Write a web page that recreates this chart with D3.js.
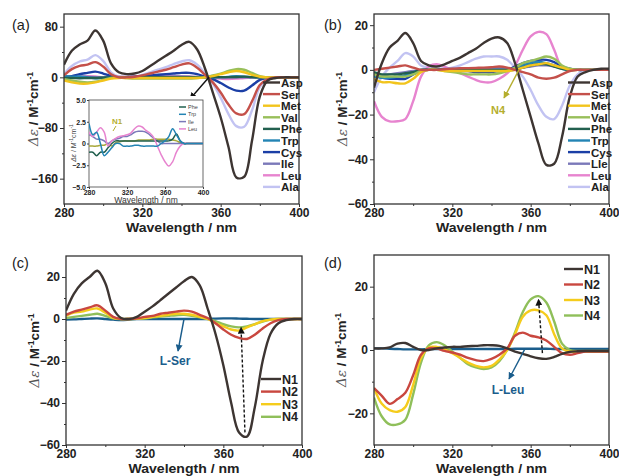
<!DOCTYPE html>
<html>
<head>
<meta charset="utf-8">
<title>CD spectra</title>
<script src="https://cdnjs.cloudflare.com/ajax/libs/d3/7.8.5/d3.min.js"></script>
<style>
  body { margin: 0; background: #fff; font-family: "Liberation Sans", Arial, sans-serif; }
  .tick text { font-weight: bold; fill: #222; }
  .axis path, .axis line { stroke: #333; }
</style>
</head>
<body>
<div id="chart"></div>
<script>
// shared wavelength grid (nm)
const wl = [280, 284, 288, 292, 296, 300, 304, 308, 312, 316, 320, 324, 328, 332, 336, 340,
            344, 348, 352, 356, 360, 364, 368, 372, 376, 380, 384, 388, 392, 396, 400];

const aminoNames = ["Asp", "Ser", "Met", "Val", "Phe", "Trp", "Cys", "Ile", "Leu", "Ala"];
const aminoNamesB = ["Asp", "Ser", "Met", "Val", "Phe", "Trp", "Cys", "Lle", "Leu", "Ala"];
const aminoColors = ["#3d3532", "#c4504a", "#f2c41c", "#98bf5a", "#22604f", "#2384b4", "#1b3fa6", "#7b79b9", "#e784cf", "#c2c3f2"];

// panel (a)
const aAsp = [20, 42, 52, 58, 74, 58, 22, 8, 5, 6, 10, 18, 26, 34, 42, 51, 56, 44, 14, -24, -63, -110, -158, -157, -100, -30, -5, -1, 0, 0, 0];
const aSer = [3, 13, 18, 20, 24, 17, 5, 0, 0, 1, 3, 6, 9, 12, 16, 20, 22, 15, 4, -8, -24, -43, -57, -58, -38, -12, -3, 0, 0, 0, 0];
const aMet = [-5, -8, -10, -10, -8, -5, -2, -1, -1, -1, -1, -1, -1, -1, -1, -1, -1, -1, 0, 2, 5, 8, 10, 8, 4, 1, 0, 0, 0, 0, 0];
const aVal = [-3, -5, -7, -8, -7, -4, -1, 0, -1, -2, -2, -2, -2, -2, -2, -2, -2, -1, 0, 3, 6, 10, 13, 12, 7, 2, 0, 0, 0, 0, 0];
const aPhe = [-1, -1, -1.4, -1, -1, -0.5, 0, 0.3, 0.3, 0.3, 0.3, 0.3, 0.3, 0.3, 0.3, 0.3, 0.3, 0.3, 0.3, 0.3, 0.3, 0.3, 0.5, 1.1, 0.3, 0, 0, 0, 0, 0, 0];
const aTrp = [2.3, 1, 1.3, 0, -1.4, -1, -0.5, 0, 0, -0.3, -0.3, -0.3, -0.2, -0.2, -0.3, -0.3, -0.3, -0.3, -0.3, 0, 0.3, 0.8, 1.7, 1, 0.3, 0, 0, 0, 0, 0, 0];
const aCys = [0, 2, 5, 7, 9, 6, 2, 0, 0, 1, 2, 3, 4, 5, 6, 7, 7, 5, 1, -3, -9, -16, -21, -21, -13, -4, -1, 0, 0, 0, 0];
const aIle = [1, 0.8, 0.5, 0.5, 0.3, 0, 0.3, 0.5, 0.6, 0.8, 0.8, 1, 1.3, 1.4, 1.4, 1.3, 1, 0.6, 0.3, 0, 0, 0, 0, 0, 0, 0, 0, 0, 0, 0, 0];
const aLeu = [1.3, 0.8, 1.3, 1.8, 1.3, -0.3, 0.3, 0.6, 0.8, 0.9, 1, 1.2, 1.7, 2, 1.9, 1.5, 1.2, 0.7, -0.3, -1.3, -2.1, -2.6, -2.1, -1, -0.3, 0, 0, 0, 0, 0, 0];
const aAla = [5, 18, 25, 28, 35, 26, 8, 1, 0, 1, 4, 8, 12, 16, 21, 25, 27, 20, 6, -10, -32, -58, -77, -78, -52, -15, -3, 0, 0, 0, 0];
const aN1 = [-0.3, -0.3, -0.3, -0.2, -0.2, 0, -0.3, 0.1, 0.2, 0.3, 0.3, 0.3, 0.3, 0.4, 0.4, 0.4, 0.4, 0.5, 0.5, 0.5, 0.5, 0.5, 0.4, 0.3, 0.1, 0, 0, 0, 0, 0, 0];

// panel (b)
const bAsp = [-8, 3, 10, 13, 16.5, 12, 4, 2, 1.5, 2.5, 4, 5.5, 7.5, 9.5, 12, 14, 14.5, 12, 3, -9, -21, -33, -42.5, -42, -30, -12, -3, -1, 0, 0.5, 0.5];
const bSer = [0, 0.5, 1, 1.5, 2, 1, 0, 0, 0, 0.3, 0.5, 0.7, 0.8, 0.9, 1, 1.2, 1.5, 1, 0, -1, -2, -3.5, -4, -3.5, -2, -0.5, 0, 0, 0, 0, 0];
const bMet = [-4, -5.5, -5.5, -6, -6, -4, -1, 0, 0, -0.5, -0.5, -0.5, -0.5, -0.5, -0.5, -0.5, -0.5, -0.5, 0, 1, 2, 2.5, 3, 2, 1, 0, 0, 0, 0, 0, 0];
const bVal = [-2, -3, -3, -3, -3, -2, -0.5, 0, 0, -0.5, -1, -1.5, -2, -2, -2, -2, -1.5, -0.5, 1, 3, 4, 5, 6, 5, 2, 0.5, 0, 0, 0, 0, 0];
const bPhe = [-1, -2, -2, -2, -1.5, -1, 0, 0, 0, 0, 0, 0, 0, 0, 0, 0, 0, 0, 0, 1, 2, 2.5, 2.5, 1.5, 0.5, 0, 0, 0, 0, 0, 0];
const bTrp = [-3, -3.5, -3.5, -3, -2.5, -1, 0, 0, 0, 0, 0, 0, 0, 0, 0, 0, 0, 0, 0.5, 2, 3, 3.5, 3, 2, 0.5, 0, 0, 0, 0, 0, 0];
const bCys = [-2, -3.5, -4, -4, -4, -2, -0.5, 0, 0, 0, -0.5, -0.5, -0.5, -1, -1, -1, -0.5, 0, 1.5, 3, 4, 4.5, 4.5, 3.5, 1.5, 0.5, 0, 0, 0, 0, 0];
const bIle = [-3, -2.5, -2, -1.5, -1, -0.5, 0, 0, 0.3, 0.4, 0.5, 0.6, 0.7, 0.8, 0.8, 0.8, 0.8, 0.5, 0.3, 1, 1.5, 2, 2, 1.5, 0.8, 0.3, 0, 0, 0, 0, 0];
const bLeu = [-14, -21, -23, -23, -22, -14, -3, 1.5, 2.5, 1.5, 0, -1.5, -3, -4.5, -5.5, -5.5, -4, -1.5, 2, 9, 15, 17, 16, 9, 1, 0, 0, 0, 0, 0, 0];
const bAla = [-10, -3, 1, 4, 7.5, 6, 2, 1, 0.5, 0.5, 1, 2, 3.5, 5, 6, 6, 6, 4.5, 1, -3, -9, -16, -21, -22, -16, -7, -2, 0, 0, 0, 0];

// panel (c)
const seriesNamesCD = ["N1", "N2", "N3", "N4"];
const seriesColorsCD = ["#3d3532", "#c9473f", "#f5cc1c", "#8fbf5a"];
const cN1 = [4, 12, 17, 20, 23, 17, 5, 0.5, 0, 1, 3.5, 6, 9, 12, 15, 18, 20, 16, 5, -7, -22, -40, -54, -56, -42, -20, -7, -2, -0.5, 0, 0];
const cN2 = [2, 3.5, 4.5, 5.5, 6.5, 4, 1, 0, 0, 0.3, 1, 1.5, 2.5, 3, 3.5, 4, 3.5, 2, 0.5, -2, -5, -7.5, -9, -9.5, -7.5, -4.5, -2, -0.5, 0, 0, 0];
const cN3 = [1.5, 3, 3.5, 4.5, 5, 3, 0.5, 0, 0, 0.2, 0.5, 1, 1.5, 2, 2.5, 2.5, 2, 1, 0, -2, -3.5, -5, -5.5, -4, -2.5, -1, -0.3, 0, 0, 0, 0];
const cN4 = [0.5, 1, 1.5, 2, 2.5, 1.5, 0.3, 0, 0, 0.1, 0.3, 0.8, 1.2, 1.5, 1.8, 2, 1.5, 0.8, 0, -1, -2.5, -3.5, -4, -3.5, -2.5, -1.2, -0.3, 0, 0, 0, 0];
const cLSer = [-0.3, -0.2, 0, 0.2, 0.3, 0, -0.3, -0.5, -0.3, 0, 0, 0, 0, 0, 0, 0, 0, 0, 0, 0.2, 0.3, 0.3, 0.2, 0.1, 0, 0, 0, 0, 0, 0, 0];

// panel (d)
const dN1 = [0.5, 0.5, 0.8, 2, 2.2, 1, 0, 0, 0.5, 0.8, 1, 1, 1.2, 1.3, 1.5, 1.5, 1.3, 0.5, -0.5, -1.2, -2, -2.6, -2.8, -2.2, -1.2, -0.6, -0.4, -0.3, -0.3, -0.3, -0.3];
const dN2 = [-12, -14.5, -17, -15.5, -13.5, -8, -1.5, 0.5, 0.5, -0.3, -0.8, -1.5, -2.5, -3.2, -3.5, -2.8, -1.5, 0.5, 4.5, 5.5, 4.5, 4, 3, 1, -1, -1.5, -1, -0.5, -0.5, -0.5, -0.5];
const dN3 = [-12, -17, -19, -19.5, -18, -11, -2.5, 0.8, 1, 0.3, -1, -2.5, -4, -5, -5.5, -5, -3, 0, 5, 10.5, 12.5, 12.5, 11, 5, 0.5, -0.5, -0.5, -0.5, -0.5, -0.5, -0.5];
const dN4 = [-15, -21, -23.5, -23.5, -22, -14, -4, 1.5, 2.5, 1.5, -0.5, -2.5, -4.5, -5.5, -6, -5.5, -3.5, 0, 5.5, 12, 16, 17, 15, 9, 2, 0, -0.3, -0.3, -0.3, -0.3, -0.3];
const dLLeu = [0.5, 0.5, 0.4, 0.3, 0.2, 0.2, 0.2, 0.3, 0.3, 0.3, 0.3, 0.3, 0.3, 0.3, 0.3, 0.3, 0.3, 0.3, 0.4, 0.4, 0.4, 0.4, 0.4, 0.3, 0.3, 0.3, 0.3, 0.3, 0.3, 0.3, 0.3];

const xTicks = [280, 320, 360, 400];
const xMinor = [300, 340, 380];

const FONT = "'Liberation Sans', Arimo, Arial, Helvetica, sans-serif";

const svg = d3.select("#chart").append("svg")
  .attr("width", 619).attr("height", 476)
  .attr("font-family", FONT)
  .style("display", "block");

function yTitle(g, x, y) {
  const t = g.append("text")
    .attr("transform", `translate(${x},${y}) rotate(-90)`)
    .attr("text-anchor", "middle")
    .attr("font-size", 13.5)
    .attr("fill", "#222");
  t.append("tspan").attr("font-style", "italic").attr("font-family", "'DejaVu Serif', serif").attr("fill", "#555").text("\u0394\u03b5");
  t.append("tspan").attr("font-weight", "bold").text(" / M");
  t.append("tspan").attr("font-weight", "bold").attr("font-size", 8.5).attr("dy", -5).text("-1");
  t.append("tspan").attr("font-weight", "bold").attr("dy", 5).text("cm");
  t.append("tspan").attr("font-weight", "bold").attr("font-size", 8.5).attr("dy", -5).text("-1");
}

function drawPanel(cfg) {
  const g = svg.append("g");
  const x = d3.scaleLinear().domain([280, 400]).range([cfg.x0, cfg.x1]);
  const y = d3.scaleLinear().domain(cfg.yDomain).range([cfg.y1, cfg.y0]);

  // lines
  const line = d3.line().x((d, i) => x(wl[i])).y(d => y(d)).curve(d3.curveCatmullRom.alpha(0.5));
  const clipId = "clip" + cfg.label;
  svg.append("clipPath").attr("id", clipId).append("rect")
    .attr("x", cfg.x0).attr("y", cfg.y0).attr("width", cfg.x1 - cfg.x0).attr("height", cfg.y1 - cfg.y0);
  const lg = g.append("g").attr("clip-path", `url(#${clipId})`);
  cfg.series.slice().reverse().forEach(s => {
    lg.append("path").datum(s.values)
      .attr("fill", "none").attr("stroke", s.color).attr("stroke-width", 2.4)
      .attr("stroke-linejoin", "round")
      .attr("d", line);
  });

  // axes
  g.append("g").attr("class", "axis").attr("transform", `translate(0,${cfg.y1})`)
    .call(d3.axisBottom(x).tickValues(xTicks).tickSize(3).tickPadding(1))
    .attr("font-family", null)
    .call(a => a.select(".domain").remove())
    .call(a => a.selectAll("text").attr("font-size", 12));
  g.append("g").attr("class", "axis").attr("transform", `translate(0,${cfg.y1})`)
    .call(d3.axisBottom(x).tickValues(xMinor).tickSize(2).tickFormat(""))
    .call(a => a.select(".domain").remove());
  g.append("g").attr("class", "axis").attr("transform", `translate(${cfg.x0},0)`)
    .call(d3.axisLeft(y).tickValues(cfg.yTicks).tickSize(4).tickPadding(2))
    .attr("font-family", null)
    .call(a => a.select(".domain").remove())
    .call(a => a.selectAll("text").attr("font-size", 12));
  g.append("g").attr("class", "axis").attr("transform", `translate(${cfg.x0},0)`)
    .call(d3.axisLeft(y).tickValues(cfg.yMinor).tickSize(2).tickFormat(""))
    .call(a => a.select(".domain").remove());

  g.append("rect")
    .attr("x", cfg.x0).attr("y", cfg.y0).attr("width", cfg.x1 - cfg.x0).attr("height", cfg.y1 - cfg.y0)
    .attr("fill", "none").attr("stroke", "#333").attr("stroke-width", 1.3);

  g.append("text").attr("x", (cfg.x0 + cfg.x1) / 2).attr("y", cfg.y1 + 27.5)
    .attr("text-anchor", "middle").attr("font-weight", "bold").attr("font-size", 13.5).attr("fill", "#222")
    .attr("textLength", 111).attr("lengthAdjust", "spacingAndGlyphs")
    .text("Wavelength / nm");
  yTitle(g, cfg.titleX, (cfg.y0 + cfg.y1) / 2);

  g.append("text").attr("x", cfg.labelX).attr("y", cfg.labelY)
    .attr("font-size", 14.5).attr("fill", "#222").text(`(${cfg.label})`);

  // legend
  cfg.series.forEach((s, i) => {
    if (!s.name) return;
    const ly = cfg.legY + i * cfg.legStep;
    g.append("line").attr("x1", cfg.legX).attr("x2", cfg.legX + cfg.legW)
      .attr("y1", ly).attr("y2", ly).attr("stroke", s.color).attr("stroke-width", 2.4);
    g.append("text").attr("x", cfg.legX + cfg.legW + 1).attr("y", ly + 4.5)
      .attr("font-weight", "bold").attr("font-size", cfg.legFont).attr("fill", "#222").text(s.name);
  });
  return { g, x, y };
}

function arrow(g, x1, y1, x2, y2, color, dashed, id) {
  svg.append("defs").append("marker").attr("id", id)
    .attr("viewBox", "0 0 10 10").attr("refX", 9).attr("refY", 5)
    .attr("markerWidth", 5).attr("markerHeight", 5).attr("orient", "auto")
    .append("path").attr("d", "M0,0L10,5L0,10z").attr("fill", color);
  g.append("line").attr("x1", x1).attr("y1", y1).attr("x2", x2).attr("y2", y2)
    .attr("stroke", color).attr("stroke-width", 1.4)
    .attr("stroke-dasharray", dashed ? "3,2" : null)
    .attr("marker-end", `url(#${id})`);
}

const aVals = [aAsp, aSer, aMet, aVal, aPhe, aTrp, aCys, aIle, aLeu, aAla];
const bVals = [bAsp, bSer, bMet, bVal, bPhe, bTrp, bCys, bIle, bLeu, bAla];

const pa = drawPanel({
  label: "a", x0: 64, x1: 299, y0: 14, y1: 204, yDomain: [-200, 100],
  yTicks: [80, 0, -80, -160], yMinor: [40, -40, -120],
  titleX: 38, labelX: 12, labelY: 30,
  series: aminoNames.map((n, i) => ({ name: n, color: aminoColors[i], values: aVals[i] })),
  legX: 263, legW: 17, legY: 82.5, legStep: 11.6, legFont: 11.5
});

const pb = drawPanel({
  label: "b", x0: 374, x1: 609, y0: 14, y1: 204, yDomain: [-60, 25],
  yTicks: [20, 0, -20, -40, -60], yMinor: [10, -10, -30, -50],
  titleX: 347, labelX: 324, labelY: 30,
  series: aminoNamesB.map((n, i) => ({ name: n, color: aminoColors[i], values: bVals[i] })),
  legX: 568, legW: 22, legY: 82.5, legStep: 11.6, legFont: 11.5
});

const pc = drawPanel({
  label: "c", x0: 66, x1: 302, y0: 256, y1: 445, yDomain: [-60, 30],
  yTicks: [20, 0, -20, -40, -60], yMinor: [10, -10, -30, -50],
  titleX: 39, labelX: 12, labelY: 268,
  series: [
    { name: "N1", color: seriesColorsCD[0], values: cN1 },
    { name: "N2", color: seriesColorsCD[1], values: cN2 },
    { name: "N3", color: seriesColorsCD[2], values: cN3 },
    { name: "N4", color: seriesColorsCD[3], values: cN4 },
    { name: null, color: "#1a5d8c", values: cLSer }
  ],
  legX: 261, legW: 20, legY: 379, legStep: 12.6, legFont: 12.5
});

const pd = drawPanel({
  label: "d", x0: 374, x1: 609, y0: 255, y1: 445, yDomain: [-30, 30],
  yTicks: [20, 0, -20], yMinor: [10, -10],
  titleX: 346, labelX: 324, labelY: 268,
  series: [
    { name: "N1", color: seriesColorsCD[0], values: dN1 },
    { name: "N2", color: seriesColorsCD[1], values: dN2 },
    { name: "N3", color: seriesColorsCD[2], values: dN3 },
    { name: "N4", color: seriesColorsCD[3], values: dN4 },
    { name: null, color: "#1a5d8c", values: dLLeu }
  ],
  legX: 564, legW: 19, legY: 269, legStep: 15.5, legFont: 12.5
});

// inset in (a)
const ix = d3.scaleLinear().domain([280, 400]).range([89, 203]);
const iy = d3.scaleLinear().domain([-5, 5]).range([187, 100]);
const ig = svg.append("g");
ig.append("rect").attr("x", 68).attr("y", 96).attr("width", 138).attr("height", 107).attr("fill", "#fff");
ig.append("rect").attr("x", 89).attr("y", 100).attr("width", 114).attr("height", 87)
  .attr("fill", "#fff").attr("stroke", "#444").attr("stroke-width", 0.8);
svg.append("clipPath").attr("id", "clipInset").append("rect").attr("x", 89).attr("y", 100).attr("width", 114).attr("height", 87);
const iline = d3.line().x((d, i) => ix(wl[i])).y(d => iy(d)).curve(d3.curveCatmullRom.alpha(0.5));
const insetSeries = [
  { name: null, color: "#a8a83a", values: aN1 },
  { name: "Ile", color: aminoColors[7], values: aIle },
  { name: "Phe", color: aminoColors[4], values: aPhe },
  { name: "Leu", color: aminoColors[8], values: aLeu },
  { name: "Trp", color: aminoColors[5], values: aTrp }
];
const ilg = ig.append("g").attr("clip-path", "url(#clipInset)");
insetSeries.forEach(s => {
  ilg.append("path").datum(s.values).attr("fill", "none").attr("stroke", s.color)
    .attr("stroke-width", 1.5).attr("d", iline);
});
ig.append("g").attr("transform", "translate(0,187)")
  .call(d3.axisBottom(ix).tickValues(xTicks).tickSize(2).tickPadding(1))
  .attr("font-family", null)
  .call(a => a.select(".domain").remove())
  .call(a => a.selectAll("text").attr("font-size", 7).attr("font-weight", "normal").attr("fill", "#333"))
  .call(a => a.selectAll("line").attr("stroke", "#444"));
ig.append("g").attr("transform", "translate(89,0)")
  .call(d3.axisLeft(iy).tickValues([5, 2.5, 0, -2.5, -5]).tickSize(2).tickPadding(1)
    .tickFormat(d => d === 0 ? "0" : d3.format(".1f")(d)))
  .attr("font-family", null)
  .call(a => a.select(".domain").remove())
  .call(a => a.selectAll("text").attr("font-size", 7).attr("font-weight", "normal").attr("fill", "#333"))
  .call(a => a.selectAll("line").attr("stroke", "#444"));
ig.append("text").attr("x", 146).attr("y", 203).attr("text-anchor", "middle")
  .attr("font-size", 8.5).attr("fill", "#333").text("Wavelength / nm");
{
  const t = ig.append("text").attr("transform", "translate(76,143) rotate(-90)")
    .attr("text-anchor", "middle").attr("font-size", 7).attr("fill", "#444");
  t.append("tspan").attr("font-style", "italic").text("\u0394\u03b5");
  t.append("tspan").text(" / M");
  t.append("tspan").attr("font-size", 5).attr("dy", -3).text("-1");
  t.append("tspan").attr("dy", 3).text("cm");
  t.append("tspan").attr("font-size", 5).attr("dy", -3).text("-1");
}
["Phe", "Trp", "Ile", "Leu"].forEach((n, i) => {
  const s = insetSeries.find(d => d.name === n);
  const ly = 107 + i * 7.3;
  ig.append("line").attr("x1", 179).attr("x2", 186).attr("y1", ly).attr("y2", ly)
    .attr("stroke", s.color).attr("stroke-width", 1.5);
  ig.append("text").attr("x", 188).attr("y", ly + 2).attr("font-size", 5.5).attr("fill", "#444").text(n);
});
ig.append("text").attr("x", 112).attr("y", 124).attr("font-size", 8).attr("font-weight", "bold")
  .attr("fill", "#b5ae2e").text("N1");
ig.append("line").attr("x1", 116).attr("y1", 126).attr("x2", 113).attr("y2", 131)
  .attr("stroke", "#b5ae2e").attr("stroke-width", 1);

// annotations
arrow(pa.g, pa.x(354), pa.y(0), 190, 99, "#111", false, "arrA");
arrow(pb.g, pb.x(354), pb.y(0), 504, 98, "#b5ae2e", false, "arrB");
pb.g.append("text").attr("x", 498).attr("y", 114).attr("text-anchor", "middle")
  .attr("font-weight", "bold").attr("font-size", 11).attr("fill", "#b5ae2e").text("N4");

arrow(pc.g, pc.x(340), pc.y(0), 178, 351, "#1a5d8c", false, "arrC");
pc.g.append("text").attr("x", 175).attr("y", 365).attr("text-anchor", "middle")
  .attr("font-weight", "bold").attr("font-size", 12).attr("fill", "#1a5d8c").text("L-Ser");
arrow(pc.g, pc.x(371), pc.y(-54), pc.x(369), pc.y(-4), "#111", true, "arrC2");

arrow(pd.g, pd.x(357), pd.y(0.3), 509, 379, "#1a5d8c", false, "arrD");
pd.g.append("text").attr("x", 508).attr("y", 394).attr("text-anchor", "middle")
  .attr("font-weight", "bold").attr("font-size", 12).attr("fill", "#1a5d8c").text("L-Leu");
arrow(pd.g, pd.x(366), pd.y(-1), pd.x(364), pd.y(16), "#111", true, "arrD2");
</script>
</body>
</html>
